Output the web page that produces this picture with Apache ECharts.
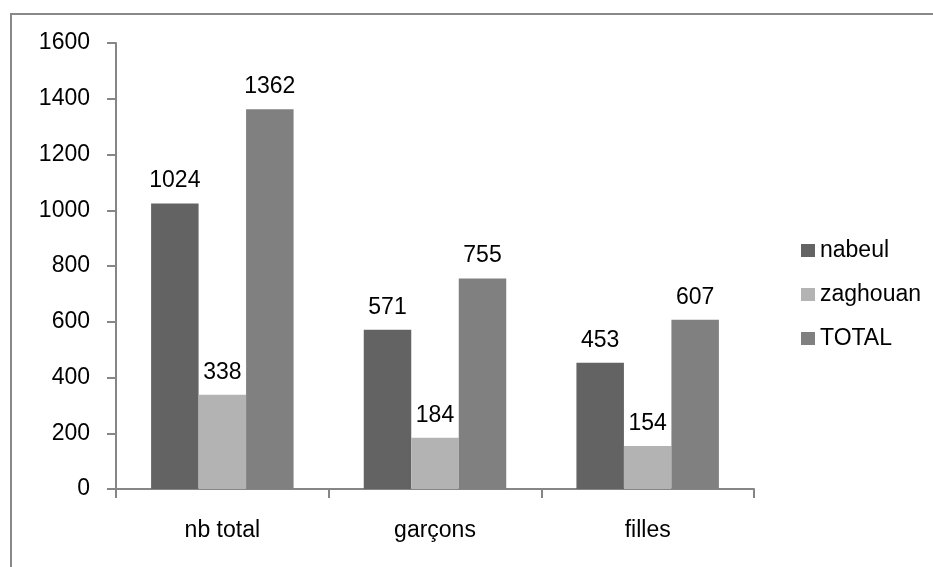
<!doctype html>
<html lang="fr">
  <head>
    <meta charset="UTF-8" />
    <title>nabeul / zaghouan</title>
    <script src="https://fastly.jsdelivr.net/npm/echarts@6/dist/echarts.min.js"></script>
    <style>
      * { margin: 0; padding: 0; }
      html, body, #chart { width: 933px; height: 567px; overflow: hidden; background: #fff; }
    </style>
  </head>
  <body>
    <div id="chart"></div>
    <script>
      const categories = ['nb total', 'garçons', 'filles'];
      const nabeul = [1024, 571, 453];
      const zaghouan = [338, 184, 154];
      const total = [1362, 755, 607];

      const font = 'Liberation Sans, Arial, sans-serif';
      const axisColor = '#868686';

      const barLabel = {
        show: true,
        position: 'top',
        distance: 11,
        color: '#000',
        fontSize: 23,
        fontFamily: font
      };

      function bar(name, data, color) {
        return {
          name: name,
          type: 'bar',
          data: data,
          barGap: '0%',
          barCategoryGap: '33%',
          itemStyle: { color: color },
          label: barLabel
        };
      }

      const chart = echarts.init(document.getElementById('chart'), null, { renderer: 'canvas' });
      chart.setOption({
        animation: false,
        textStyle: { fontFamily: font },
        graphic: [
          {
            type: 'rect',
            shape: { x: 11, y: 14, width: 1000, height: 1000 },
            style: { fill: 'none', stroke: '#888', lineWidth: 2 }
          }
        ],
        grid: { left: 116, top: 43, right: 179, bottom: 78 },
        legend: {
          orient: 'vertical',
          left: 796,
          top: 234,
          itemWidth: 14,
          itemHeight: 13,
          itemGap: 21,
          icon: 'rect',
          textStyle: { fontSize: 23, color: '#000', fontFamily: font },
          data: ['nabeul', 'zaghouan', 'TOTAL']
        },
        xAxis: {
          type: 'category',
          data: categories,
          axisLine: { lineStyle: { color: axisColor, width: 2 } },
          axisTick: { show: true, length: 9, lineStyle: { color: axisColor, width: 2 } },
          axisLabel: { margin: 30, fontSize: 23, color: '#000', fontFamily: font }
        },
        yAxis: {
          type: 'value',
          min: 0,
          max: 1600,
          interval: 200,
          axisLine: { show: true, lineStyle: { color: axisColor, width: 2 } },
          axisTick: { show: true, length: 9, lineStyle: { color: axisColor, width: 2 } },
          splitLine: { show: false },
          axisLabel: {
            margin: 26,
            fontSize: 23,
            color: '#000',
            fontFamily: font,
            formatter: function (v) { return String(v); }
          }
        },
        series: [
          bar('nabeul', nabeul, '#636363'),
          bar('zaghouan', zaghouan, '#b3b3b3'),
          bar('TOTAL', total, '#808080')
        ]
      });
    </script>
  </body>
</html>
